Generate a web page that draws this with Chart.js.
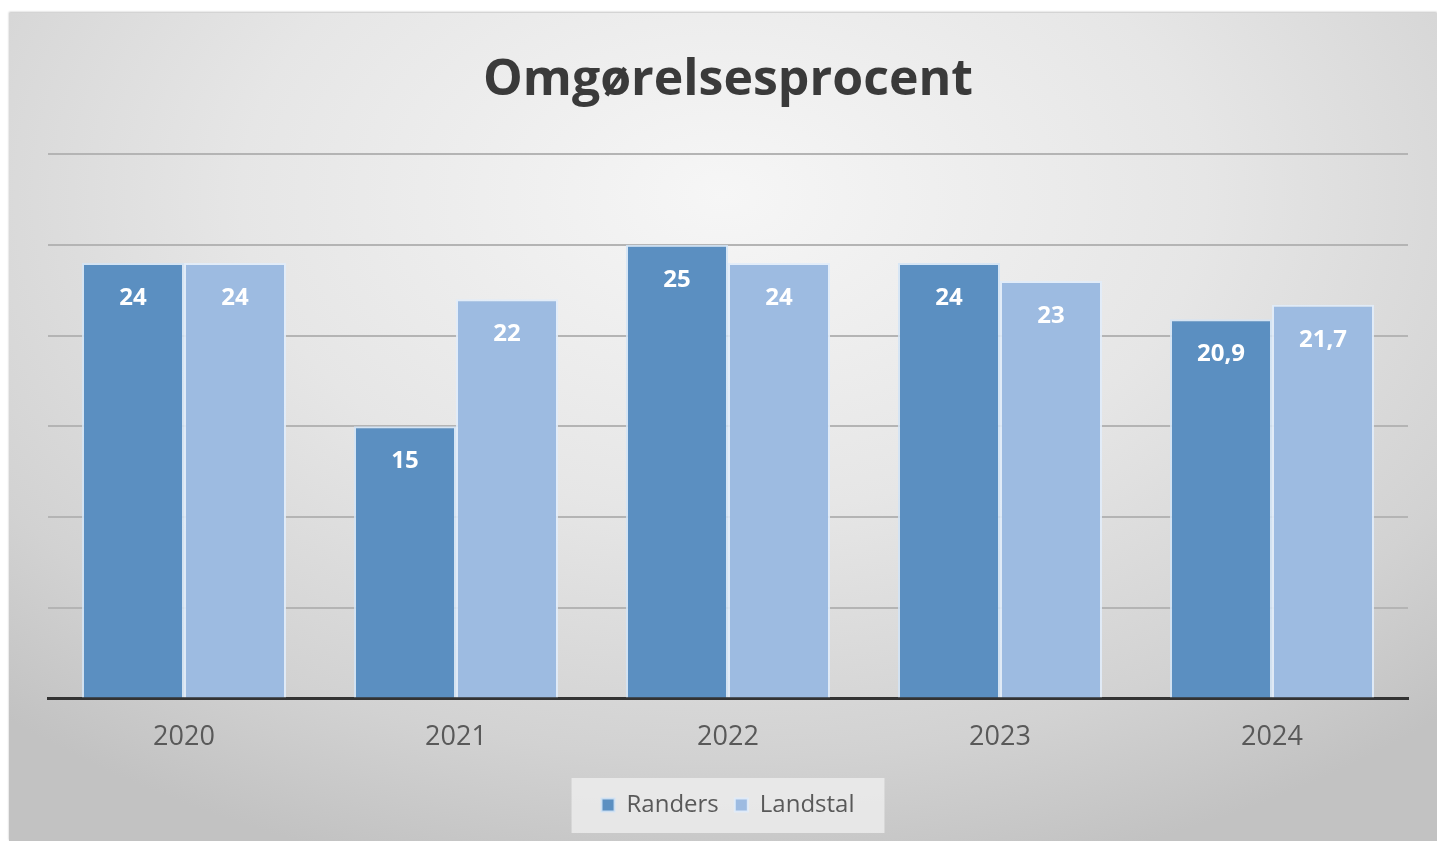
<!DOCTYPE html>
<html lang="da">
<head>
    <meta charset="UTF-8">
    <title>Omgørelsesprocent</title>
    <script src="https://cdn.jsdelivr.net/npm/chart.js"></script>
    <style>
        html, body { margin: 0; padding: 0; background: #fff; }
        #panel {
            position: absolute; left: 9px; top: 13px; width: 1428px; height: 828px;
            background: radial-gradient(ellipse 75% 85% at 50% 22%, #f6f6f6 0%, #e6e6e6 45%, #d2d2d2 80%, #c2c2c2 100%);
            box-shadow: 0 -1px 2px rgba(0,0,0,0.25);
        }
    </style>
</head>
<body>
<div id="panel"><canvas id="chart"></canvas></div>
<script>
    // data
    const years = ['2020', '2021', '2022', '2023', '2024'];
    const randers = [24, 15, 25, 24, 20.9];
    const landstal = [24, 22, 24, 23, 21.7];

    const fontFamily = '"Open Sans", "Noto Sans", sans-serif';

    // value labels inside the top of each bar, danish comma decimals
    const valueLabels = {
        id: 'valueLabels',
        afterDatasetsDraw(chart) {
            const ctx = chart.ctx;
            ctx.save();
            ctx.font = 'bold 24px ' + fontFamily;
            ctx.fillStyle = '#ffffff';
            ctx.textAlign = 'center';
            ctx.textBaseline = 'middle';
            chart.data.datasets.forEach((ds, i) => {
                chart.getDatasetMeta(i).data.forEach((bar, j) => {
                    const txt = String(ds.data[j]).replace('.', ',');
                    ctx.fillText(txt, bar.x, bar.y + 35);
                });
            });
            ctx.restore();
        }
    };

    // light box behind the legend
    const legendBox = {
        id: 'legendBox',
        beforeDraw(chart) {
            const boxes = chart.legend && chart.legend.legendHitBoxes;
            if (!boxes || !boxes.length) return;
            let l = Infinity, r = -Infinity, t = Infinity, b = -Infinity;
            boxes.forEach(h => {
                l = Math.min(l, h.left); r = Math.max(r, h.left + h.width);
                t = Math.min(t, h.top); b = Math.max(b, h.top + h.height);
            });
            const ctx = chart.ctx;
            ctx.save();
            ctx.fillStyle = 'rgba(240,240,240,0.75)';
            ctx.fillRect(l - 30, t - 15, (r - l) + 60, (b - t) + 31);
            ctx.restore();
        }
    };

    const chart = new Chart(document.getElementById('chart'), {
        type: 'bar',
        data: {
            labels: years,
            datasets: [
                {
                    label: 'Randers',
                    data: randers,
                    backgroundColor: '#5b8fc1',
                    borderColor: 'rgba(210,228,246,0.85)',
                    borderWidth: 2
                },
                {
                    label: 'Landstal',
                    data: landstal,
                    backgroundColor: '#9dbbe1',
                    borderColor: 'rgba(225,236,249,0.9)',
                    borderWidth: 2
                }
            ]
        },
        options: {
            responsive: true,
            maintainAspectRatio: false,
            animation: false,
            layout: { padding: { left: 39, right: 29, top: 0, bottom: 14 } },
            datasets: { bar: { categoryPercentage: 0.75, barPercentage: 1.0 } },
            scales: {
                x: {
                    grid: { display: false, drawTicks: false },
                    border: { display: true, color: '#333333', width: 3 },
                    ticks: { color: '#595959', padding: 23, font: { family: fontFamily, size: 27 } }
                },
                y: {
                    min: 0, max: 30,
                    ticks: { display: false, stepSize: 5 },
                    grid: { color: '#b4b4b4', lineWidth: 2, drawTicks: false },
                    border: { display: false }
                }
            },
            plugins: {
                title: {
                    display: true,
                    text: 'Omgørelsesprocent',
                    color: '#3a3a3a',
                    font: { family: fontFamily, size: 50, weight: 'bold' },
                    padding: { top: 38, bottom: 43 }
                },
                legend: {
                    position: 'bottom',
                    labels: {
                        color: '#595959',
                        boxWidth: 13, boxHeight: 13,
                        padding: 16,
                        font: { family: fontFamily, size: 24 }
                    }
                },
                tooltip: { enabled: false }
            }
        },
        plugins: [valueLabels, legendBox]
    });
</script>
</body>
</html>
